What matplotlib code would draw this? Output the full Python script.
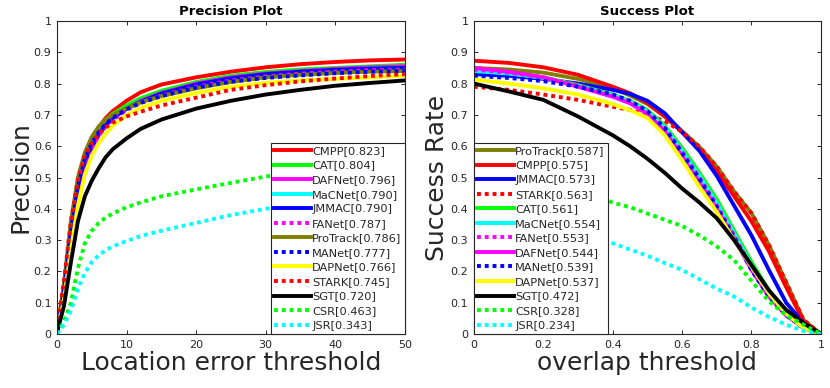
import numpy as np
import matplotlib.pyplot as plt

plt.rcParams['font.family'] = 'DejaVu Sans'
TXT = '#262626'

# ---- precision plot (location error threshold, pixels) ----
prec_x = [0, 1, 2, 3, 4, 5, 6, 7, 8, 10, 12, 15, 20, 25, 30, 35, 40, 45, 50]
prec_cmpp = [0.01, 0.14, 0.33, 0.47, 0.56, 0.62, 0.66, 0.69, 0.712, 0.745, 0.772, 0.797, 0.82, 0.838, 0.852, 0.862, 0.869, 0.874, 0.877]
prec_cat = [0.01, 0.15, 0.34, 0.48, 0.57, 0.62, 0.66, 0.685, 0.703, 0.73, 0.753, 0.777, 0.805, 0.825, 0.837, 0.845, 0.85, 0.855, 0.86]
prec_dafnet = [0.01, 0.12, 0.30, 0.44, 0.53, 0.59, 0.635, 0.665, 0.688, 0.72, 0.745, 0.77, 0.80, 0.82, 0.832, 0.84, 0.847, 0.852, 0.855]
prec_macnet = [0.01, 0.14, 0.33, 0.47, 0.56, 0.61, 0.645, 0.67, 0.69, 0.72, 0.742, 0.765, 0.795, 0.815, 0.827, 0.836, 0.843, 0.848, 0.85]
prec_jmmac = [0.01, 0.13, 0.32, 0.46, 0.55, 0.60, 0.64, 0.668, 0.69, 0.72, 0.742, 0.768, 0.797, 0.817, 0.83, 0.838, 0.844, 0.848, 0.85]
prec_fanet = [0.01, 0.13, 0.32, 0.46, 0.55, 0.60, 0.635, 0.663, 0.685, 0.715, 0.738, 0.762, 0.79, 0.81, 0.823, 0.832, 0.838, 0.843, 0.845]
prec_protrack = [0.01, 0.16, 0.36, 0.50, 0.58, 0.63, 0.663, 0.685, 0.70, 0.722, 0.74, 0.76, 0.785, 0.805, 0.82, 0.828, 0.834, 0.838, 0.84]
prec_manet = [0.01, 0.14, 0.33, 0.47, 0.56, 0.61, 0.645, 0.67, 0.69, 0.718, 0.738, 0.76, 0.787, 0.806, 0.818, 0.826, 0.833, 0.838, 0.84]
prec_dapnet = [0.01, 0.11, 0.27, 0.41, 0.51, 0.57, 0.61, 0.64, 0.665, 0.70, 0.722, 0.745, 0.77, 0.79, 0.802, 0.81, 0.815, 0.82, 0.825]
prec_stark = [0.02, 0.17, 0.36, 0.49, 0.57, 0.61, 0.64, 0.66, 0.675, 0.695, 0.71, 0.73, 0.755, 0.78, 0.795, 0.807, 0.816, 0.824, 0.83]
prec_sgt = [0.005, 0.09, 0.23, 0.36, 0.44, 0.49, 0.53, 0.565, 0.59, 0.625, 0.655, 0.685, 0.72, 0.745, 0.765, 0.78, 0.793, 0.802, 0.81]
prec_csr = [0.0, 0.04, 0.10, 0.21, 0.29, 0.33, 0.355, 0.372, 0.385, 0.405, 0.42, 0.44, 0.462, 0.483, 0.503, 0.52, 0.535, 0.548, 0.56]
prec_jsr = [0.0, 0.03, 0.075, 0.145, 0.195, 0.23, 0.252, 0.268, 0.28, 0.297, 0.313, 0.33, 0.355, 0.38, 0.40, 0.415, 0.43, 0.44, 0.45]

# ---- success plot (overlap threshold) ----
succ_x = [0, 0.1, 0.2, 0.3, 0.4, 0.45, 0.5, 0.55, 0.6, 0.65, 0.7, 0.75, 0.8, 0.85, 0.9, 0.95, 1.0]
succ_protrack = [0.85, 0.845, 0.835, 0.815, 0.785, 0.762, 0.735, 0.695, 0.648, 0.598, 0.535, 0.455, 0.386, 0.285, 0.165, 0.045, 0.0]
succ_cmpp = [0.873, 0.866, 0.852, 0.828, 0.79, 0.769, 0.738, 0.695, 0.645, 0.59, 0.52, 0.44, 0.36, 0.265, 0.15, 0.04, 0.0]
succ_jmmac = [0.83, 0.825, 0.815, 0.80, 0.78, 0.767, 0.745, 0.705, 0.645, 0.585, 0.505, 0.41, 0.315, 0.205, 0.10, 0.035, 0.0]
succ_stark = [0.79, 0.78, 0.765, 0.748, 0.726, 0.716, 0.70, 0.68, 0.646, 0.598, 0.535, 0.455, 0.386, 0.285, 0.165, 0.045, 0.0]
succ_cat = [0.845, 0.835, 0.82, 0.795, 0.765, 0.745, 0.715, 0.665, 0.595, 0.515, 0.43, 0.33, 0.23, 0.14, 0.07, 0.025, 0.0]
succ_macnet = [0.84, 0.832, 0.818, 0.792, 0.762, 0.742, 0.71, 0.66, 0.585, 0.505, 0.418, 0.32, 0.22, 0.13, 0.065, 0.022, 0.0]
succ_fanet = [0.845, 0.835, 0.82, 0.793, 0.762, 0.742, 0.71, 0.658, 0.583, 0.5, 0.412, 0.315, 0.215, 0.125, 0.062, 0.02, 0.0]
succ_dafnet = [0.85, 0.838, 0.82, 0.79, 0.758, 0.737, 0.703, 0.648, 0.568, 0.485, 0.40, 0.305, 0.205, 0.12, 0.06, 0.02, 0.0]
succ_manet = [0.825, 0.818, 0.808, 0.79, 0.765, 0.745, 0.712, 0.658, 0.578, 0.495, 0.405, 0.308, 0.205, 0.12, 0.06, 0.02, 0.0]
succ_dapnet = [0.813, 0.80, 0.785, 0.765, 0.735, 0.715, 0.69, 0.635, 0.555, 0.47, 0.39, 0.30, 0.215, 0.13, 0.065, 0.02, 0.0]
succ_sgt = [0.80, 0.775, 0.748, 0.695, 0.635, 0.60, 0.56, 0.515, 0.465, 0.42, 0.37, 0.30, 0.22, 0.14, 0.077, 0.035, 0.0]
succ_csr = [0.53, 0.52, 0.50, 0.465, 0.42, 0.405, 0.385, 0.365, 0.345, 0.315, 0.28, 0.236, 0.17, 0.105, 0.06, 0.03, 0.0]
succ_jsr = [0.37, 0.36, 0.345, 0.32, 0.29, 0.27, 0.25, 0.227, 0.205, 0.175, 0.145, 0.12, 0.085, 0.055, 0.03, 0.01, 0.0]

# tracker -> (colour, dotted?)
style = {
    'CMPP': ('#ff0000', False), 'CAT': ('#00ff00', False), 'DAFNet': ('#ff00ff', False),
    'MaCNet': ('#00ffff', False), 'JMMAC': ('#0000ff', False), 'FANet': ('#ff00ff', True),
    'ProTrack': ('#808000', False), 'MANet': ('#0000ff', True), 'DAPNet': ('#ffff00', False),
    'STARK': ('#ff0000', True), 'SGT': ('#000000', False), 'CSR': ('#00ff00', True),
    'JSR': ('#00ffff', True),
}

prec_curves = [('CMPP', 0.823, prec_cmpp), ('CAT', 0.804, prec_cat), ('DAFNet', 0.796, prec_dafnet),
               ('MaCNet', 0.790, prec_macnet), ('JMMAC', 0.790, prec_jmmac), ('FANet', 0.787, prec_fanet),
               ('ProTrack', 0.786, prec_protrack), ('MANet', 0.777, prec_manet), ('DAPNet', 0.766, prec_dapnet),
               ('STARK', 0.745, prec_stark), ('SGT', 0.720, prec_sgt), ('CSR', 0.463, prec_csr),
               ('JSR', 0.343, prec_jsr)]
succ_curves = [('ProTrack', 0.587, succ_protrack), ('CMPP', 0.575, succ_cmpp), ('JMMAC', 0.573, succ_jmmac),
               ('STARK', 0.563, succ_stark), ('CAT', 0.561, succ_cat), ('MaCNet', 0.554, succ_macnet),
               ('FANet', 0.553, succ_fanet), ('DAFNet', 0.544, succ_dafnet), ('MANet', 0.539, succ_manet),
               ('DAPNet', 0.537, succ_dapnet), ('SGT', 0.472, succ_sgt), ('CSR', 0.328, succ_csr),
               ('JSR', 0.234, succ_jsr)]


def draw(ax, x, curves, title, xlabel, ylabel, xmax, xticks, xticklabels, legend_loc):
    for name, score, vals in curves:
        col, dotted = style[name]
        ls = (0, (1, 1)) if dotted else '-'
        ax.plot(x, vals, color=col, ls=ls, lw=2.8, dash_capstyle='butt',
                label=f'{name}[{score:.3f}]')
    ax.set_xlim(0, xmax)
    ax.set_ylim(0, 1)
    ax.set_xticks(xticks)
    ax.set_xticklabels(xticklabels)
    ax.set_yticks(np.arange(0, 1.01, 0.1))
    ax.set_yticklabels(['0', '0.1', '0.2', '0.3', '0.4', '0.5', '0.6', '0.7', '0.8', '0.9', '1'])
    ax.tick_params(direction='in', length=3, width=0.7, labelsize=8, colors=TXT,
                   top=True, right=True, pad=4)
    for sp in ax.spines.values():
        sp.set_color(TXT)
        sp.set_linewidth(0.8)
    ax.set_title(title, fontsize=9.5, fontweight='bold', color='black', pad=4)
    ax.set_xlabel(xlabel, fontsize=18, color=TXT, labelpad=1)
    ax.set_ylabel(ylabel, fontsize=18, color=TXT, labelpad=1)
    leg = ax.legend(loc=legend_loc, fontsize=8.2, frameon=True, fancybox=False, framealpha=1,
                    borderaxespad=0, handlelength=3.2, handletextpad=0.12,
                    labelspacing=0.4, borderpad=0.3)
    leg.get_frame().set_edgecolor(TXT)
    leg.get_frame().set_linewidth(0.8)
    for t in leg.get_texts():
        t.set_color(TXT)


fig = plt.figure(figsize=(8.3, 3.88), dpi=100)
ax1 = fig.add_axes([0.0687, 0.139, 0.419, 0.807])
ax2 = fig.add_axes([0.571, 0.139, 0.418, 0.807])

draw(ax1, prec_x, prec_curves, 'Precision Plot', 'Location error threshold', 'Precision',
     50, [0, 10, 20, 30, 40, 50], ['0', '10', '20', '30', '40', '50'], 'lower right')
draw(ax2, succ_x, succ_curves, 'Success Plot', 'overlap threshold', 'Success Rate',
     1, [0, 0.2, 0.4, 0.6, 0.8, 1], ['0', '0.2', '0.4', '0.6', '0.8', '1'], 'lower left')

fig.savefig('out.png', dpi=100)
